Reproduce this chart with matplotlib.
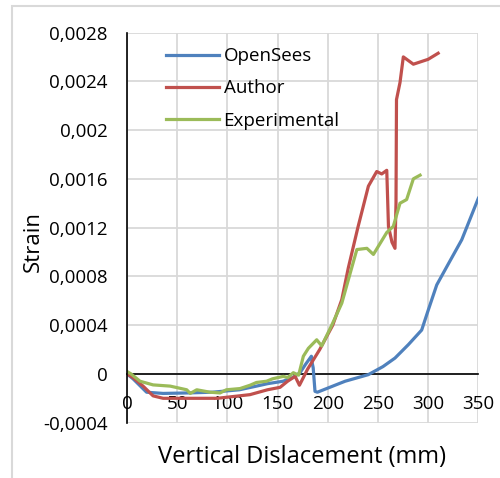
import matplotlib.pyplot as plt
from matplotlib.patches import Rectangle

# Strain vs vertical displacement for three data sets
opensees_x = [0, 6, 19.5, 36, 60, 85, 112, 129, 140, 155.5, 165, 172.4, 178, 183.7, 184.5,
              185.5, 187.3, 189.7, 217.3, 240.4, 255, 267, 280.3, 293.6, 300, 308.6, 320, 333.5, 350]
opensees_y = [0, -0.00004, -0.00015, -0.00016, -0.000156, -0.00015, -0.00013, -0.0001, -0.00008,
              -0.00006, -0.00003, 0.00001, 0.00008, 0.000145, 0.00009, 0.00005, -0.000143, -0.00015,
              -0.00006, -0.000006, 0.00006, 0.00013, 0.00024, 0.00036, 0.00052, 0.00073, 0.0009,
              0.0011, 0.00144]

author_x = [0, 6, 16, 26, 36, 60, 90, 122.5, 140, 152.5, 160, 167.5, 171.8, 180, 192, 205, 214,
            220.5, 230, 240.5, 248.8, 253.8, 258.8, 260.5, 264, 267, 268, 268.5, 272, 275.3,
            285.3, 300, 310]
author_y = [0, -0.00003, -0.0001, -0.00018, -0.0002, -0.0002, -0.0002, -0.00017, -0.00013,
            -0.00011, -0.00006, -0.00002, -0.000093, 0.00004, 0.0002, 0.0004, 0.00061, 0.00087,
            0.0012, 0.00154, 0.00166, 0.00164, 0.00167, 0.00121, 0.00108, 0.00103, 0.0014,
            0.00225, 0.00239, 0.0026, 0.00254, 0.00258, 0.00263]

experimental_x = [0, 4, 13, 26, 43, 59.5, 63, 69.5, 82.7, 92.7, 99, 112.6, 122.5, 129, 139,
                  145, 155.7, 160, 165.7, 171, 175.7, 180.7, 189, 194, 204, 214, 222.5, 229,
                  239, 245.5, 258.8, 265.3, 272, 278.6, 285.3, 292]
experimental_y = [0.00002, 0, -0.00006, -0.00009, -0.0001, -0.00013, -0.00016, -0.00013, -0.00015,
                  -0.000156, -0.00013, -0.00012, -0.000093, -0.00007, -0.00006, -0.00004, -0.00002,
                  -0.00003, 0.00001, -0.00001, 0.000145, 0.00021, 0.00028, 0.00023, 0.0004,
                  0.00058, 0.00083, 0.00102, 0.00103, 0.00098, 0.00116, 0.00121, 0.0014, 0.00143,
                  0.0016, 0.00163]

x_ticks = [0, 50, 100, 150, 200, 250, 300, 350]
y_ticks = [-0.0004, 0, 0.0004, 0.0008, 0.0012, 0.0016, 0.002, 0.0024, 0.0028]
y_tick_labels = ['-0,0004', '0', '0,0004', '0,0008', '0,0012', '0,0016', '0,002', '0,0024', '0,0028']

plt.rcParams['font.family'] = ['Open Sans', 'DejaVu Sans']

fig = plt.figure(figsize=(5, 4.78), dpi=100)
ax = fig.add_axes([0.254, 0.1157, 0.7026, 0.8163])

# light chart-area border
fig.patches.append(Rectangle((12 / 500, -0.1), 1.2, 1.1 - 6 / 478, transform=fig.transFigure,
                             fill=False, edgecolor='#d9d9d9', linewidth=1.5))

ax.plot(opensees_x, opensees_y, color='#4f81bd', linewidth=2.3, label='OpenSees')
ax.plot(author_x, author_y, color='#c0504d', linewidth=2.3, label='Author')
ax.plot(experimental_x, experimental_y, color='#9bbb59', linewidth=2.3, label='Experimental')

ax.set_xlim(0, 350)
ax.set_ylim(-0.0004, 0.0028)
ax.set_xticks(x_ticks)
ax.set_yticks(y_ticks)
ax.set_yticklabels(y_tick_labels)
ax.grid(True, color='#d9d9d9', linewidth=1.3)
ax.set_axisbelow(True)

for side in ['top', 'right']:
    ax.spines[side].set_visible(False)
ax.spines['left'].set_color('black')
ax.spines['left'].set_linewidth(1.2)
ax.spines['bottom'].set_position(('data', 0))
ax.spines['bottom'].set_color('black')
ax.spines['bottom'].set_linewidth(1.2)
ax.spines['bottom'].set_zorder(1.5)

ax.tick_params(axis='x', length=0, pad=15, labelsize=13.5)
ax.tick_params(axis='y', length=0, pad=14, labelsize=13.5)

fig.text(302 / 500, 1 - 457 / 478, 'Vertical Dislacement (mm)', ha='center', va='center', fontsize=17)
fig.text(33 / 500, 1 - 242 / 478, 'Strain', ha='center', va='center', rotation=90, fontsize=16)

ax.legend(loc='upper left', bbox_to_anchor=(0.063, 1.005), frameon=False, fontsize=13.5,
          handlelength=2.8, labelspacing=0.75, handletextpad=0.27)

fig.savefig('out.png', dpi=100)
